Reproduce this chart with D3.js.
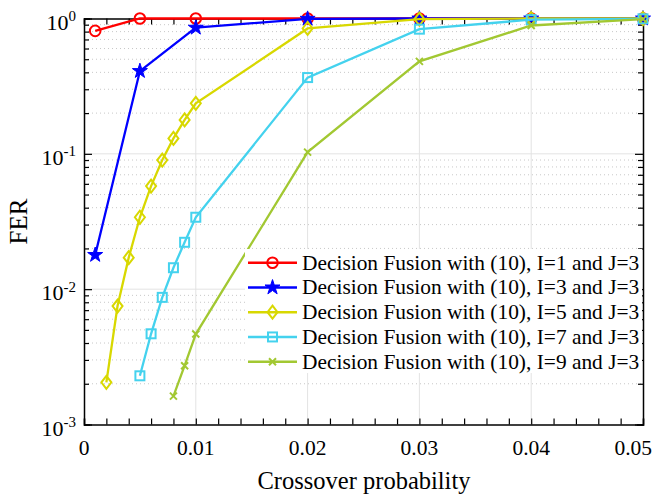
<!DOCTYPE html>
<html><head><meta charset="utf-8">
<script src="https://cdn.jsdelivr.net/npm/d3@7"></script>
<style>body{margin:0;background:#fff;} svg{display:block;}</style>
</head><body>
<svg id="c" width="653" height="496"></svg>
<script>
const xI1 = [0.001, 0.005, 0.01, 0.02, 0.03, 0.04, 0.05];
const yI1 = [0.81, 1.0, 1.0, 1.0, 1.0, 1.0, 1.0];
const xI3 = [0.001, 0.005, 0.01, 0.02, 0.03, 0.04, 0.05];
const yI3 = [0.0179, 0.409, 0.855, 0.995, 1.0, 1.0, 1.0];
const xI5 = [0.002, 0.003, 0.004, 0.005, 0.006, 0.007, 0.008, 0.009, 0.01, 0.02, 0.03, 0.04, 0.05];
const yI5 = [0.00205, 0.0075, 0.0171, 0.034, 0.0578, 0.090, 0.130, 0.178, 0.236, 0.844, 0.99, 1.0, 1.0];
const xI7 = [0.005, 0.006, 0.007, 0.008, 0.009, 0.01, 0.02, 0.03, 0.04, 0.05];
const yI7 = [0.00229, 0.00468, 0.0087, 0.0144, 0.0222, 0.034, 0.366, 0.834, 0.98, 0.995];
const xI9 = [0.008, 0.009, 0.01, 0.02, 0.03, 0.04, 0.05];
const yI9 = [0.00162, 0.00272, 0.00466, 0.103, 0.482, 0.888, 0.99];
const seriesNames = ["Decision Fusion with (10), I=1 and J=3","Decision Fusion with (10), I=3 and J=3","Decision Fusion with (10), I=5 and J=3","Decision Fusion with (10), I=7 and J=3","Decision Fusion with (10), I=9 and J=3"];
const seriesColors = ["#ff0000","#0000ff","#d8d800","#44d2ee","#a2c832"];
const seriesMarkers = ["circle","star","diamond","square","x"];
const xTickVals = [0, 0.01, 0.02, 0.03, 0.04, 0.05];
const xTickLabels = ["0","0.01","0.02","0.03","0.04","0.05"];
const yTickExps = [0, -1, -2, -3];
const xLabel = "Crossover probability";
const yLabel = "FER";

const series = [
  {x:xI1,y:yI1},{x:xI3,y:yI3},{x:xI5,y:yI5},{x:xI7,y:yI7},{x:xI9,y:yI9}
].map((s,i)=>({pts:s.x.map((v,j)=>[v,s.y[j]]), name:seriesNames[i], color:seriesColors[i], marker:seriesMarkers[i]}));

const L=84, R=643, T=18.5, B=424.5;
const svg=d3.select("#c");
const x=d3.scaleLinear().domain([0,0.05]).range([L,R]);
const y=d3.scaleLog().domain([1e-3,1]).range([B,T]);
const font="'Liberation Serif','Times New Roman',serif";

// grid
const g=svg.append("g");
const minorY=[];
for(let e=-3;e<0;e++) for(let m=2;m<=9;m++) minorY.push(m*Math.pow(10,e));
g.selectAll(".my").data(minorY).enter().append("line")
  .attr("x1",L).attr("x2",R).attr("y1",d=>y(d)).attr("y2",d=>y(d))
  .attr("stroke","#c8c8c8").attr("stroke-width",1).attr("stroke-dasharray","1,3");
g.selectAll(".My").data([1e-1,1e-2]).enter().append("line")
  .attr("x1",L).attr("x2",R).attr("y1",d=>y(d)).attr("y2",d=>y(d))
  .attr("stroke","#e3e3e3").attr("stroke-width",1);
g.selectAll(".Mx").data(xTickVals.slice(1,-1)).enter().append("line")
  .attr("y1",T).attr("y2",B).attr("x1",d=>x(d)).attr("x2",d=>x(d))
  .attr("stroke","#e3e3e3").attr("stroke-width",1);

// axes
const xMinor=d3.range(0,0.0501,0.002);
const axB=svg.append("g").attr("transform",`translate(0,${B})`)
  .call(d3.axisBottom(x).tickValues(xMinor).tickSize(-6).tickFormat(""));
const axT=svg.append("g").attr("transform",`translate(0,${T})`)
  .call(d3.axisTop(x).tickValues(xMinor).tickSize(-6).tickFormat(""));
const yAll=minorY.concat([1,0.1,0.01,0.001]);
const axL=svg.append("g").attr("transform",`translate(${L},0)`)
  .call(d3.axisLeft(y).tickValues(yAll).tickSize(-6).tickFormat(""));
const axR=svg.append("g").attr("transform",`translate(${R},0)`)
  .call(d3.axisRight(y).tickValues(yAll).tickSize(-6).tickFormat(""));
[axB,axT,axL,axR].forEach(a=>{a.selectAll("path").attr("stroke","#000").attr("stroke-width",1.5);a.selectAll("line").attr("stroke","#000").attr("stroke-width",1.2);});
axL.selectAll(".tick line").attr("x2",d=>[1,0.1,0.01,0.001].some(v=>Math.abs(v-d)<1e-9)?8:5);
axR.selectAll(".tick line").attr("x2",d=>[1,0.1,0.01,0.001].some(v=>Math.abs(v-d)<1e-9)?-8:-5);

// tick labels
svg.selectAll(".xl").data(xTickVals).enter().append("text")
  .attr("x",(d,i)=>i===xTickVals.length-1?652:x(d)).attr("y",455)
  .attr("text-anchor",(d,i)=>i===xTickVals.length-1?"end":"middle")
  .attr("font-family",font).attr("font-size",21.5).text((d,i)=>xTickLabels[i]);
const yl=svg.selectAll(".yl").data(yTickExps).enter().append("text")
  .attr("x",76).attr("y",d=>y(Math.pow(10,d))+11).attr("text-anchor","end")
  .attr("font-family",font).attr("font-size",22);
yl.append("tspan").text("10");
yl.append("tspan").attr("dy",-8.5).attr("font-size",15).text(d=>String(d));

svg.append("text").attr("x",364).attr("y",489).attr("text-anchor","middle")
  .attr("font-family",font).attr("font-size",24.5).text(xLabel);
svg.append("text").attr("transform",`translate(26.5,221.5) rotate(-90)`).attr("text-anchor","middle")
  .attr("font-family",font).attr("font-size",25).text(yLabel);

// markers
function drawMarker(sel,type,color,cx,cy){
  const m=sel.append("g").attr("transform",`translate(${cx},${cy})`);
  if(type==="circle") m.append("circle").attr("r",5.3).attr("fill","none").attr("stroke",color).attr("stroke-width",2);
  else if(type==="star") m.append("path").attr("d",d3.symbol(d3.symbolStar,70)()).attr("fill",color).attr("stroke",color).attr("stroke-width",1);
  else if(type==="diamond") m.append("path").attr("d","M0,-6.5L5,0L0,6.5L-5,0Z").attr("fill","none").attr("stroke",color).attr("stroke-width",2);
  else if(type==="square") m.append("rect").attr("x",-4.5).attr("y",-4.5).attr("width",9).attr("height",9).attr("fill","none").attr("stroke",color).attr("stroke-width",2);
  else if(type==="x") m.append("path").attr("d","M-3.5,-3.5L3.5,3.5M-3.5,3.5L3.5,-3.5").attr("fill","none").attr("stroke",color).attr("stroke-width",2);
}
const line=d3.line().x(d=>x(d[0])).y(d=>y(d[1]));
series.forEach(s=>{
  const sg=svg.append("g");
  sg.append("path").attr("d",line(s.pts)).attr("fill","none").attr("stroke",s.color).attr("stroke-width",2.3);
  s.pts.forEach(p=>drawMarker(sg,s.marker,s.color,x(p[0]),y(p[1])));
});

// legend
const lg=svg.append("g");
lg.append("rect").attr("x",245).attr("y",249).attr("width",R-245-1).attr("height",124).attr("fill","#fff");
series.forEach((s,i)=>{
  const yy=262.7+i*24.75;
  lg.append("line").attr("x1",248).attr("x2",297).attr("y1",yy).attr("y2",yy).attr("stroke",s.color).attr("stroke-width",2.5);
  drawMarker(lg,s.marker,s.color,272.5,yy);
  lg.append("text").attr("x",302).attr("y",yy+7).attr("font-family",font).attr("font-size",21.4).text(s.name);
});
</script>
</body></html>
